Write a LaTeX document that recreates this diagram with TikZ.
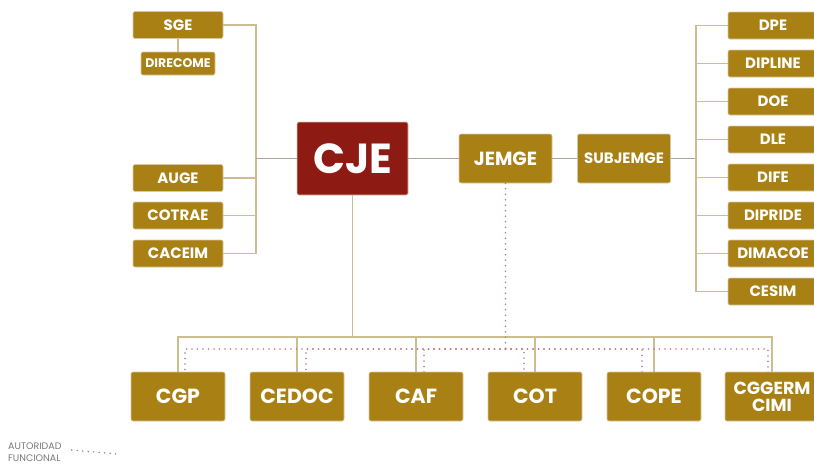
\documentclass[tikz,border=0pt]{standalone}
\usepackage{fontspec}
\setmainfont{Poppins}
\definecolor{gold}{RGB}{169,128,19}
\definecolor{cjered}{RGB}{142,26,20}
\definecolor{boxedge}{RGB}{215,200,165}
\definecolor{linetan}{RGB}{205,190,145}
\definecolor{linegrey}{RGB}{175,165,145}
\definecolor{dotpink}{RGB}{185,125,125}
\definecolor{legendgrey}{RGB}{120,120,120}
\begin{document}
\begin{tikzpicture}[x=1pt, y=-1pt,
    box/.style={draw=boxedge, fill=gold, rounded corners=2pt, text=white, inner sep=0pt, line width=0.6pt},
    side/.style={box, minimum width=90pt, minimum height=27pt, font=\bfseries\fontsize{15}{15}\selectfont},
    mid/.style={box, minimum width=93pt, minimum height=49pt, font=\bfseries\fontsize{19}{19}\selectfont},
    unit/.style={box, minimum width=94pt, minimum height=49pt, font=\bfseries\fontsize{20.5}{20.5}\selectfont},
    link/.style={draw=linetan, line width=1.2pt},
    spine/.style={draw=linegrey, line width=1.2pt},
    func/.style={draw=dotpink, line width=1.7pt, line cap=round, dash pattern=on 0pt off 5.5pt}]
    \useasboundingbox (0,0) rectangle (814,464);

    % mando
    \node (cje) at (352.5,158.5) [box, fill=cjered, minimum width=111pt, minimum height=73pt, font=\bfseries\fontsize{42}{42}\selectfont] {CJE};
    \node (jemge) at (505.5,158.5) [mid] {JEMGE};
    \node (subjemge) at (624,158.5) [mid, font=\bfseries\fontsize{15}{15}\selectfont] {SUBJEMGE};
    \draw[spine] (cje) -- (jemge) -- (subjemge);

    % izquierda
    \node (sge) at (178,25) [side] {SGE};
    \node (direcome) at (178,63.5) [side, minimum width=74pt, minimum height=23pt, font=\bfseries\fontsize{12.5}{12.5}\selectfont] {DIRECOME};
    \node (auge) at (178,178) [side] {AUGE};
    \node (cotrae) at (178,215.5) [side] {COTRAE};
    \node (caceim) at (178,253.5) [side] {CACEIM};
    \coordinate (lbus) at (256,158.5);
    \draw[link] (sge) -- (direcome);
    \draw[link] (sge.east) -| (lbus);
    \draw[spine] (lbus) -- (cje.west);
    \draw[link] (auge.east) -| (lbus);
    \draw[link] (cotrae.east) -| (lbus);
    \draw[link] (caceim.east) -| (lbus);

    % derecha
    \coordinate (rbus) at (696,158.5);
    \draw[spine] (subjemge.east) -- (rbus);
    \foreach \name/\txt [count=\i from 0] in {dpe/DPE, dipline/DIPLINE, doe/DOE, dle/DLE, dife/DIFE, dipride/DIPRIDE, dimacoe/DIMACOE, cesim/CESIM} {
        \node (\name) at (773,25.5+38*\i) [side] {\txt};
        \draw[link] (rbus) |- (\name.west);
    }

    % organos
    \node (cgp) at (178,396.5) [unit] {CGP};
    \node (cedoc) at (297,396.5) [unit] {CEDOC};
    \node (caf) at (416,396.5) [unit] {CAF};
    \node (cot) at (535,396.5) [unit] {COT};
    \node (cope) at (654,396.5) [unit] {COPE};
    \node (cggerm) at (772,396.5) [unit, align=center, font=\bfseries\fontsize{17.5}{17}\selectfont] {CGGERM\\CIMI};
    \coordinate (bbus) at (352.5,337);
    \draw[link] (cje.south) -- (bbus);
    \foreach \name in {cgp, cedoc, caf, cot, cope, cggerm}
        \draw[link] (bbus) -| (\name.north);

    % autoridad funcional
    \coordinate (dbus) at (505.5,349);
    \draw[func] (jemge.south) -- (dbus);
    \foreach \name/\dx in {cgp/7, cedoc/9, caf/8, cot/-11, cope/-12, cggerm/-4}
        \draw[func] (dbus) -| ([xshift=\dx pt, yshift=-3pt]\name.north);

    % leyenda
    \node (legend) at (8,452) [anchor=west, align=left, text=legendgrey, inner sep=0pt, font=\fontsize{9.5}{12}\selectfont] {AUTORIDAD\\FUNCIONAL};
    \coordinate (legendend) at (117,454);
    \draw[func] ([xshift=10pt, yshift=2pt]legend.east) -- (legendend);
\end{tikzpicture}
\end{document}
